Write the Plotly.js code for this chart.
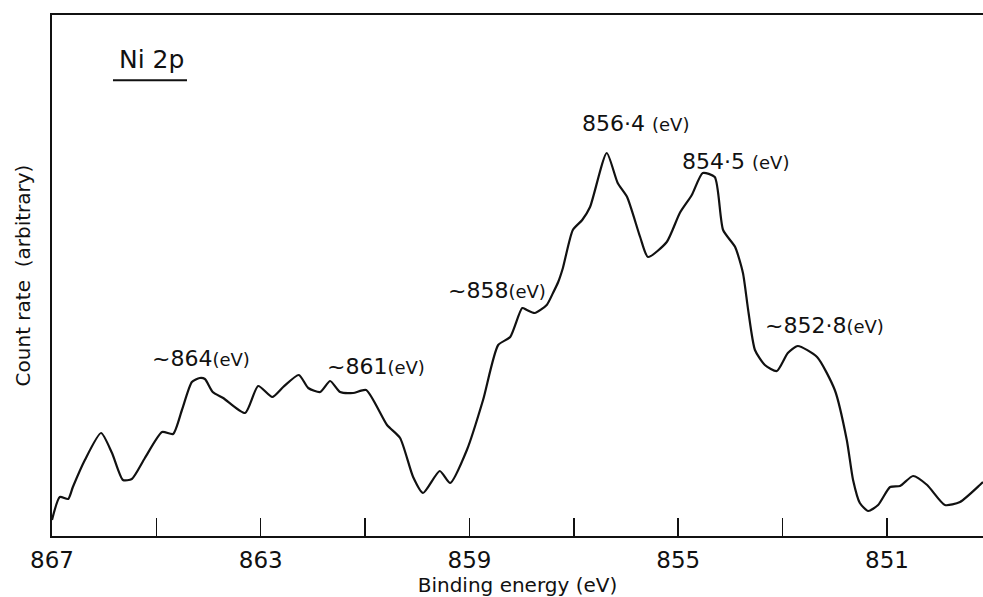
<!DOCTYPE html>
<html>
<head>
<meta charset="utf-8">
<script src="https://cdn.plot.ly/plotly-3.0.1.min.js"></script>
<style>html,body{margin:0;padding:0;background:#fff;}#chart{width:983px;height:597px;}</style>
</head>
<body>
<div id="chart"></div>
<script>
// Binding energy (eV)
const energy = [867.00, 866.85, 866.69, 866.60, 866.37, 866.06, 865.85, 865.64, 865.47, 865.22,
  864.89, 864.68, 864.51, 864.32, 864.17, 864.07, 863.92, 863.72, 863.30, 863.05,
  862.78, 862.57, 862.27, 862.09, 861.86, 861.67, 861.48, 861.23, 860.98, 860.58,
  860.33, 860.08, 859.89, 859.57, 859.37, 859.05, 858.74, 858.45, 858.22, 857.99,
  857.90, 857.75, 857.52, 857.40, 857.30, 857.21, 857.02, 856.84, 856.69, 856.37,
  856.16, 855.98, 855.73, 855.58, 855.22, 854.97, 854.74, 854.53, 854.30, 854.14,
  853.91, 853.76, 853.66, 853.53, 853.34, 853.11, 852.90, 852.71, 852.34, 852.00,
  851.77, 851.65, 851.52, 851.36, 851.17, 850.94, 850.75, 850.50, 850.23, 849.89,
  849.60, 849.22, 849.16];
// Count rate (arbitrary units)
const counts = [16, 39, 37, 49, 76, 103, 83, 56, 57, 78,
  104, 102, 126, 154, 158, 157, 144, 138, 123, 150,
  139, 149, 161, 148, 144, 155, 144, 143, 146, 111,
  98, 59, 43, 65, 53, 86, 136, 191, 199, 228,
  226, 223, 231, 243, 254, 268, 306, 316, 329, 383,
  353, 339, 299, 279, 294, 323, 341, 363, 359, 306,
  289, 263, 226, 186, 171, 165, 183, 190, 179, 146,
  96, 56, 33, 25, 31, 49, 50, 60, 51, 31,
  34, 51, 54];

const tickValues = [867, 865, 863, 861, 859, 857, 855, 853, 851];
const tickLabels = ['867', '', '863', '', '859', '', '855', '', '851'];

const peakLabels = ['~864', '~861', '~858', '856·4 ', '854·5 ', '~852·8'];
const peakLabelX = [864.15, 860.79, 858.47, 855.81, 853.91, 852.19];
const peakLabelY = [178, 170, 246, 413, 375, 211];

const FONT = 'DejaVu Sans, Liberation Sans, Arial, sans-serif';
const INK = '#111';

const annotations = peakLabels.map((t, i) => ({
  x: peakLabelX[i], y: peakLabelY[i], xref: 'x', yref: 'y',
  text: t + '<span style="font-size:18px">(eV)</span>',
  showarrow: false, xanchor: 'center', yanchor: 'middle',
  font: {family: FONT, size: 22, color: INK}
}));
annotations.push({
  x: 0.107, y: 0.914, xref: 'paper', yref: 'paper', text: 'Ni 2p',
  showarrow: false, xanchor: 'center', yanchor: 'middle',
  font: {family: FONT, size: 25, color: INK}
});

const trace = {
  x: energy, y: counts, type: 'scatter', mode: 'lines',
  line: {color: INK, width: 2.2, shape: 'spline', smoothing: 0.6},
  hoverinfo: 'skip'
};

const layout = {
  width: 983, height: 597,
  margin: {l: 52, r: 0, t: 15, b: 61},
  paper_bgcolor: '#fff', plot_bgcolor: '#fff',
  showlegend: false,
  font: {family: FONT, color: INK},
  xaxis: {
    range: [867, 849.16], showgrid: false, zeroline: false,
    showline: true, linecolor: INK, linewidth: 1.6, mirror: true,
    ticks: 'inside', ticklen: 18, tickwidth: 1.5, tickcolor: INK,
    tickmode: 'array', tickvals: tickValues, ticktext: tickLabels,
    tickfont: {family: FONT, size: 23, color: INK},
    ticklabelstandoff: 3,
    title: {text: 'Binding energy (eV)', font: {family: FONT, size: 20, color: INK}, standoff: 4}
  },
  yaxis: {
    range: [0, 521], showgrid: false, zeroline: false,
    showline: true, linecolor: INK, linewidth: 1.6, mirror: false,
    ticks: '', showticklabels: false,
    title: {text: 'Count rate  (arbitrary)', font: {family: FONT, size: 20, color: INK}, standoff: 14}
  },
  annotations: annotations,
  shapes: [{
    type: 'line', xref: 'paper', yref: 'paper',
    x0: 0.0655, x1: 0.145, y0: 0.875, y1: 0.875,
    line: {color: INK, width: 2}
  }]
};

Plotly.newPlot('chart', [trace], layout, {displayModeBar: false, staticPlot: true});
</script>
</body>
</html>
